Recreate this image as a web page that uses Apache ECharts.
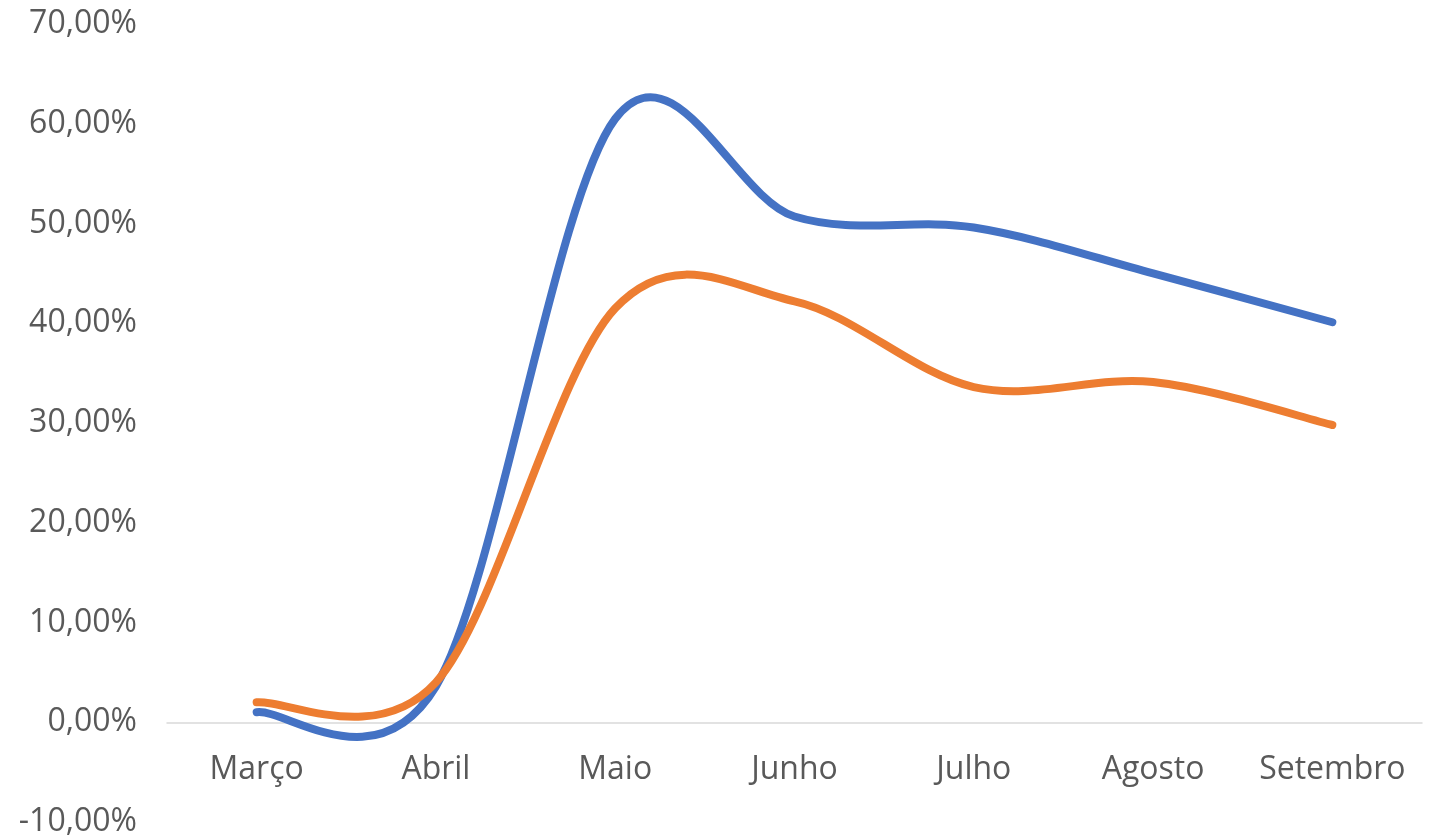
<!DOCTYPE html>
<html>
<head>
<meta charset="utf-8">
<script src="https://cdn.jsdelivr.net/npm/echarts@6/dist/echarts.min.js"></script>
<style>
html,body{margin:0;padding:0;background:#fff;}
#c{width:1430px;height:837px;}
</style>
</head>
<body>
<div id="c"></div>
<script>
const categories = ['Março', 'Abril', 'Maio', 'Junho', 'Julho', 'Agosto', 'Setembro'];
const seriesBlue = [1.0, 3.6, 60.5, 50.7, 49.6, 45.0, 40.1];
const seriesOrange = [2.0, 4.0, 41.5, 42.2, 33.6, 34.1, 29.8];
const yMin = -10, yMax = 70, yStep = 10;

const GRID_TOP = 24, GRID_BOTTOM = 15;
const plotH = 837 - GRID_TOP - GRID_BOTTOM;
const zeroOffset = plotH * (0 - yMin) / (yMax - yMin);

// Excel-like smoothed line (Catmull-Rom as cubic Bezier), drawn through library coordinates
function smoothRender(values, color) {
  return function (params, api) {
    if (params.dataIndex !== 0) return null;
    const pts = values.map((v, i) => api.coord([i, v]));
    const n = pts.length;
    let d = 'M' + pts[0][0] + ' ' + pts[0][1];
    for (let i = 0; i < n - 1; i++) {
      const p0 = pts[Math.max(i - 1, 0)], p1 = pts[i], p2 = pts[i + 1], p3 = pts[Math.min(i + 2, n - 1)];
      const c1x = p1[0] + (p2[0] - p0[0]) / 6, c1y = p1[1] + (p2[1] - p0[1]) / 6;
      const c2x = p2[0] - (p3[0] - p1[0]) / 6, c2y = p2[1] - (p3[1] - p1[1]) / 6;
      d += ' C' + c1x + ' ' + c1y + ' ' + c2x + ' ' + c2y + ' ' + p2[0] + ' ' + p2[1];
    }
    return {
      type: 'path',
      shape: { pathData: d },
      style: { fill: 'none', stroke: color, lineWidth: 8, lineCap: 'round', lineJoin: 'round' }
    };
  };
}

const chart = echarts.init(document.getElementById('c'));
chart.setOption({
  animation: false,
  backgroundColor: '#ffffff',
  grid: { left: 167, right: 8, top: GRID_TOP, bottom: GRID_BOTTOM, containLabel: false, outerBoundsMode: 'none' },
  xAxis: {
    type: 'category',
    data: categories,
    boundaryGap: true,
    position: 'bottom',
    offset: -zeroOffset,
    axisLine: { onZero: false, lineStyle: { color: '#D9D9D9', width: 1.5 } },
    axisTick: { show: false },
    axisLabel: { color: '#595959', fontFamily: 'Open Sans', fontSize: 32, margin: 32, interval: 0 }
  },
  yAxis: {
    type: 'value',
    min: yMin, max: yMax, interval: yStep,
    axisLine: { show: false },
    axisTick: { show: false },
    splitLine: { show: false },
    axisLabel: {
      color: '#595959', fontFamily: 'Open Sans', fontSize: 32, margin: 30,
      formatter: v => v.toFixed(2).replace('.', ',') + '%'
    }
  },
  series: [
    { type: 'custom', name: 'Azul', clip: false,
      data: seriesBlue.map((v, i) => [i, v]),
      renderItem: smoothRender(seriesBlue, '#4472C4') },
    { type: 'custom', name: 'Laranja', clip: false,
      data: seriesOrange.map((v, i) => [i, v]),
      renderItem: smoothRender(seriesOrange, '#ED7D31') }
  ]
});
</script>
</body>
</html>
